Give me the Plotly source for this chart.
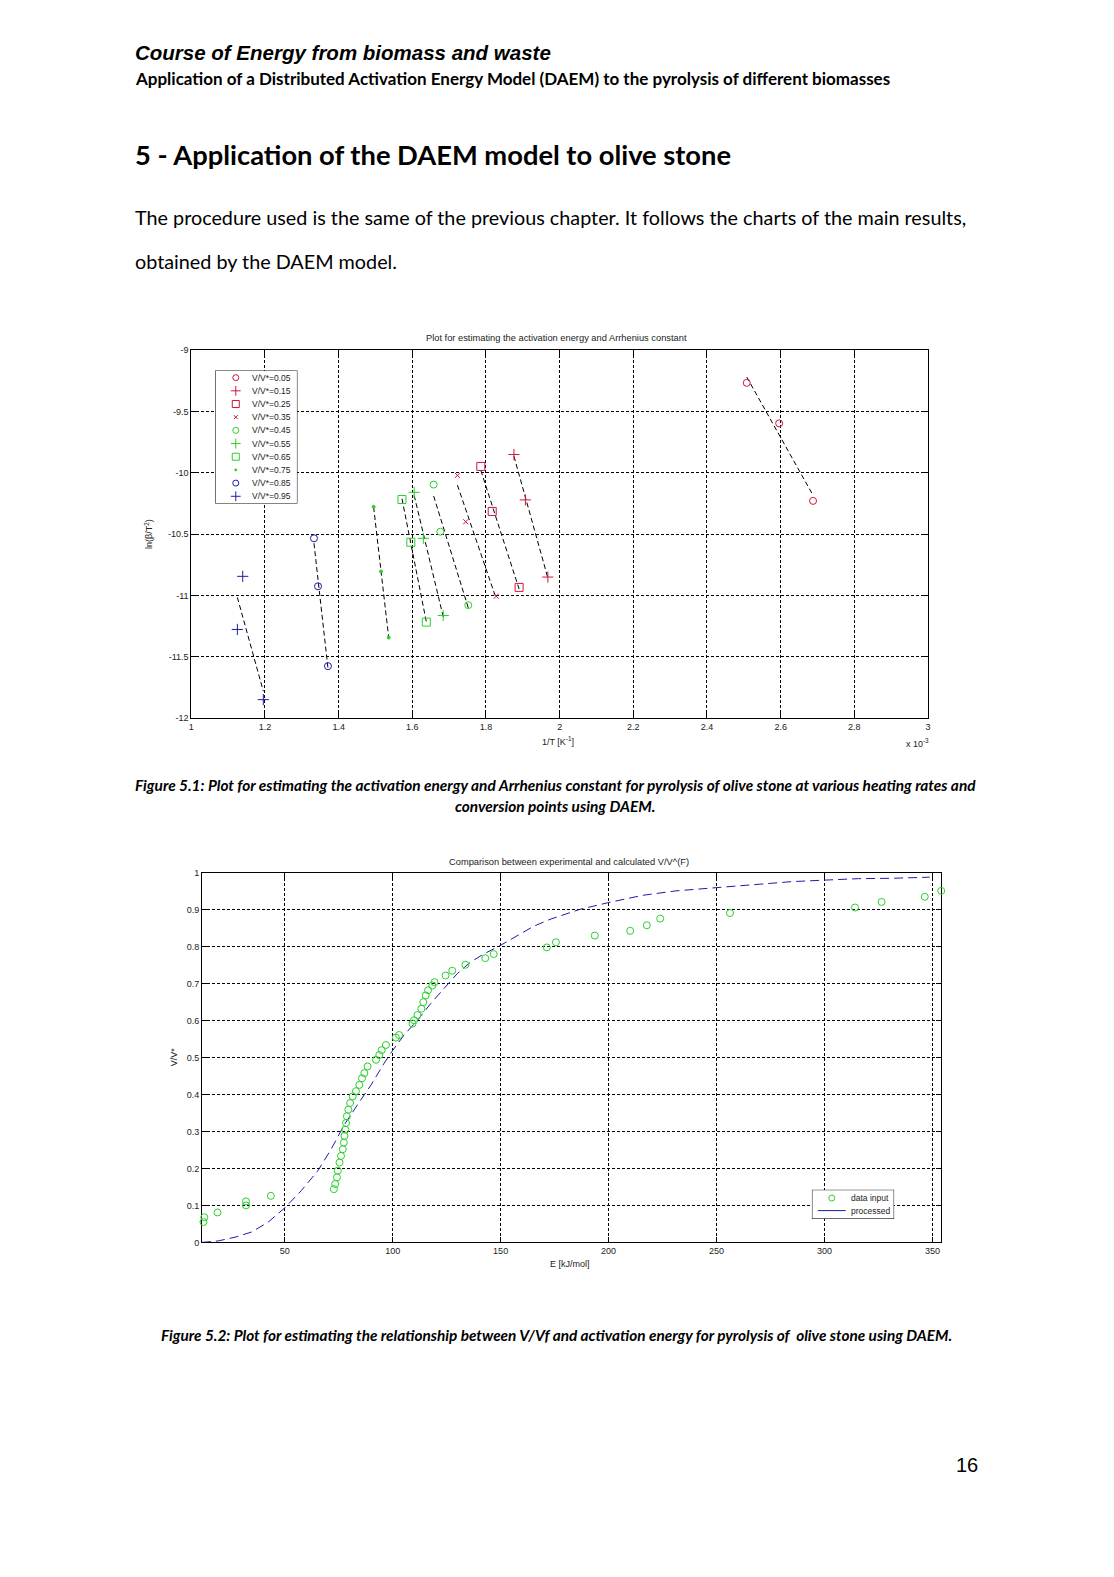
import numpy as np
import plotly.graph_objects as go

W, H = 1114, 1577
OFF = 8  # default body margin of the html page
FW, FH = W - 2 * OFF, H - 2 * OFF


def px(x):
    return (x - OFF) / FW


def py(y):
    return 1 - (y - OFF) / FH


# ---------------- Figure 5.1 data: ln(beta/T^2) vs 1/T (x 10^-3 K^-1) ----------------
conv_labels = ["V/V*=0.05", "V/V*=0.15", "V/V*=0.25", "V/V*=0.35", "V/V*=0.45",
               "V/V*=0.55", "V/V*=0.65", "V/V*=0.75", "V/V*=0.85", "V/V*=0.95"]

invT_005 = [2.508, 2.596, 2.688]
lnbT_005 = [-9.267, -9.597, -10.229]
invT_015 = [1.876, 1.907, 1.968]
lnbT_015 = [-9.851, -10.221, -10.850]
invT_025 = [1.786, 1.817, 1.890]
lnbT_025 = [-9.948, -10.315, -10.934]
invT_035 = [1.7225, 1.745, 1.828]
lnbT_035 = [-10.021, -10.399, -11.006]
invT_045 = [1.658, 1.676, 1.752]
lnbT_045 = [-10.096, -10.480, -11.079]
invT_055 = [1.605, 1.630, 1.684]
lnbT_055 = [-10.159, -10.534, -11.163]
invT_065 = [1.572, 1.596, 1.638]
lnbT_065 = [-10.218, -10.566, -11.217]
invT_075 = [1.495, 1.515, 1.536]
lnbT_075 = [-10.277, -10.804, -11.343]
invT_085 = [1.333, 1.344, 1.371]
lnbT_085 = [-10.534, -10.925, -11.576]
invT_095 = [1.1396, 1.125, 1.1955]
lnbT_095 = [-10.844, -11.277, -11.849]

x1_ticks = [1, 1.2, 1.4, 1.6, 1.8, 2, 2.2, 2.4, 2.6, 2.8, 3]
x1_ticklabels = ["1", "1.2", "1.4", "1.6", "1.8", "2", "2.2", "2.4", "2.6", "2.8", "3"]
y1_ticks = [-12, -11.5, -11, -10.5, -10, -9.5, -9]
y1_ticklabels = ["-12", "-11.5", "-11", "-10.5", "-10", "-9.5", "-9"]

# ---------------- Figure 5.2 data: V/V* vs E ----------------
E_data = [12.4, 12.8, 18.9, 32.1, 32.1, 43.6, 72.8, 73.4, 74.2, 74.6, 75.4, 76.1, 76.9,
          77.4, 77.7, 78.1, 78.4, 78.8, 79.5, 80.3, 81.5, 83.0, 84.6, 85.8, 86.9, 88.4,
          92.3, 93.8, 94.9, 96.9, 101.5, 103.0, 109.2, 109.9, 111.5, 113.3, 114.2, 115.3,
          116.4, 118.4, 119.4, 124.5, 127.6, 133.7, 142.9, 146.8, 171.4, 175.6, 193.6,
          210.0, 217.7, 223.9, 256.2, 314.1, 326.4, 346.4, 354.0]
V_data = [0.055, 0.068, 0.081, 0.111, 0.100, 0.126, 0.144, 0.158, 0.176, 0.194, 0.216,
          0.234, 0.252, 0.270, 0.288, 0.305, 0.323, 0.341, 0.359, 0.377, 0.395, 0.409,
          0.426, 0.444, 0.458, 0.476, 0.494, 0.507, 0.520, 0.534, 0.554, 0.561, 0.592,
          0.601, 0.615, 0.632, 0.650, 0.668, 0.682, 0.695, 0.704, 0.722, 0.735, 0.751,
          0.769, 0.780, 0.798, 0.812, 0.830, 0.843, 0.858, 0.876, 0.891, 0.906, 0.921,
          0.935, 0.951]

E_proc = [11.7, 19.3, 27.0, 34.7, 42.4, 50.0, 57.7, 65.4, 71.5, 77.7, 83.8, 90.0, 96.1,
          99.6, 105.3, 111.5, 117.6, 123.7, 129.9, 136.0, 142.1, 149.8, 157.5, 165.2,
          172.9, 180.6, 186.7, 199.7, 215.8, 231.2, 249.8, 269.6, 284.9, 299.7, 315.7,
          331.0, 348.7]
V_proc = [0.000, 0.004, 0.014, 0.028, 0.055, 0.093, 0.140, 0.194, 0.252, 0.319, 0.373,
          0.426, 0.485, 0.516, 0.561, 0.601, 0.646, 0.686, 0.727, 0.758, 0.780, 0.803,
          0.830, 0.855, 0.874, 0.888, 0.901, 0.919, 0.939, 0.951, 0.960, 0.970, 0.976,
          0.980, 0.984, 0.985, 0.988]

x2_ticks = [50, 100, 150, 200, 250, 300, 350]
y2_ticks = [0, 0.1, 0.2, 0.3, 0.4, 0.5, 0.6, 0.7, 0.8, 0.9, 1]
y2_ticklabels = ["0", "0.1", "0.2", "0.3", "0.4", "0.5", "0.6", "0.7", "0.8", "0.9", "1"]
legend2_labels = ["data input", "processed"]

# ---------------- styles ----------------
RED = "#d0143c"
GREEN = "#2ad02a"
BLUE = "#1c1ca8"
FONT = "Liberation Sans"

series = [
    (invT_005, lnbT_005, RED, "circle-open", 7),
    (invT_015, lnbT_015, RED, "cross-thin-open", 8),
    (invT_025, lnbT_025, RED, "square-open", 8),
    (invT_035, lnbT_035, RED, "x-thin-open", 5),
    (invT_045, lnbT_045, GREEN, "circle-open", 7),
    (invT_055, lnbT_055, GREEN, "cross-thin-open", 8),
    (invT_065, lnbT_065, GREEN, "square-open", 8),
    (invT_075, lnbT_075, GREEN, "circle", 3),
    (invT_085, lnbT_085, BLUE, "circle-open", 7),
    (invT_095, lnbT_095, BLUE, "cross-thin-open", 8),
]

fig = go.Figure()

# Chart 1 fit lines and points
for xs, ys, col, sym, sz in series:
    xs_a = np.array(xs)
    ys_a = np.array(ys)
    k, b = np.polyfit(xs_a, ys_a, 1)
    xl = np.array([xs_a.min(), xs_a.max()])
    fig.add_trace(go.Scatter(x=xl, y=k * xl + b, mode="lines",
                             line=dict(color="black", width=1, dash="5px,3px"),
                             xaxis="x", yaxis="y", showlegend=False, hoverinfo="skip"))
for (xs, ys, col, sym, sz), lab in zip(series, conv_labels):
    fig.add_trace(go.Scatter(x=xs, y=ys, mode="markers", name=lab,
                             marker=dict(symbol=sym, color=col, size=sz,
                                         line=dict(color=col, width=1)),
                             xaxis="x", yaxis="y", showlegend=False))

# Chart 2
fig.add_trace(go.Scatter(x=E_proc, y=V_proc, mode="lines", name="processed",
                         line=dict(color=BLUE, width=1, dash="9px,5px"),
                         xaxis="x2", yaxis="y2", showlegend=False))
fig.add_trace(go.Scatter(x=E_data, y=V_data, mode="markers", name="data input",
                         marker=dict(symbol="circle-open", color=GREEN, size=7,
                                     line=dict(color=GREEN, width=1)),
                         xaxis="x2", yaxis="y2", showlegend=False, cliponaxis=False))

# ---------- manual legend 1 (overlay subplot x3/y3, px units inside box) ----------
L1 = dict(x0=213.3, x1=296.0, y0=367.7, y1=501.7)
lw1 = L1["x1"] - L1["x0"]
lh1 = L1["y1"] - L1["y0"]
fig.add_trace(go.Scatter(x=[0, lw1, lw1, 0, 0], y=[0, 0, lh1, lh1, 0], mode="lines",
                         fill="toself", fillcolor="white",
                         line=dict(color="black", width=1), xaxis="x3", yaxis="y3",
                         showlegend=False, hoverinfo="skip", cliponaxis=False))
row_gap = (lh1 - 14.6) / (len(conv_labels) - 1)
for i, ((xs, ys, col, sym, sz), lab) in enumerate(zip(series, conv_labels)):
    yy = 7.3 + i * row_gap
    fig.add_trace(go.Scatter(x=[20.7], y=[yy], mode="markers",
                             marker=dict(symbol=sym, color=col, size=sz - 1,
                                         line=dict(color=col, width=1)),
                             xaxis="x3", yaxis="y3", showlegend=False, hoverinfo="skip"))
    fig.add_annotation(x=35.5, y=yy, xref="x3", yref="y3", text=lab, showarrow=False,
                       xanchor="left", yanchor="middle",
                       font=dict(family=FONT, size=8.5, color="#222"))

# ---------- manual legend 2 (overlay subplot x4/y4) ----------
L2 = dict(x0=813.3, x1=896.0, y0=1192.3, y1=1221.7)
lw2 = L2["x1"] - L2["x0"]
lh2 = L2["y1"] - L2["y0"]
fig.add_trace(go.Scatter(x=[0, lw2, lw2, 0, 0], y=[0, 0, lh2, lh2, 0], mode="lines",
                         fill="toself", fillcolor="white",
                         line=dict(color="black", width=1), xaxis="x4", yaxis="y4",
                         showlegend=False, hoverinfo="skip", cliponaxis=False))
fig.add_trace(go.Scatter(x=[20], y=[8.4], mode="markers",
                         marker=dict(symbol="circle-open", color=GREEN, size=6,
                                     line=dict(color=GREEN, width=1)),
                         xaxis="x4", yaxis="y4", showlegend=False, hoverinfo="skip"))
fig.add_trace(go.Scatter(x=[6, 34], y=[21, 21], mode="lines",
                         line=dict(color=BLUE, width=1),
                         xaxis="x4", yaxis="y4", showlegend=False, hoverinfo="skip",
                         cliponaxis=False))
for j, lab in enumerate(legend2_labels):
    fig.add_annotation(x=37, y=8.4 + j * 12.6, xref="x4", yref="y4", text=lab,
                       showarrow=False, xanchor="left", yanchor="middle",
                       font=dict(family=FONT, size=8.5, color="#222"))

axis_common = dict(showgrid=True, gridcolor="black", gridwidth=1, griddash="3px,2px",
                   ticks="inside", ticklen=5, tickcolor="black", showline=True,
                   linecolor="black", linewidth=1, mirror="ticks", zeroline=False,
                   tickfont=dict(family=FONT, size=9, color="#222"), layer="below traces")

hidden = dict(visible=False, showgrid=False, zeroline=False, fixedrange=True)

fig.update_layout(
    width=FW, height=FH, margin=dict(l=0, r=0, t=0, b=0),
    paper_bgcolor="white", plot_bgcolor="rgba(0,0,0,0)", showlegend=False,
    xaxis=dict(domain=[px(189.3), px(930)], range=[1, 3], tickvals=x1_ticks,
               ticktext=x1_ticklabels, anchor="y", **axis_common),
    yaxis=dict(domain=[py(717.7), py(347.3)], range=[-12, -9], tickvals=y1_ticks,
               ticktext=y1_ticklabels, anchor="x", **axis_common),
    xaxis2=dict(domain=[px(200), px(943.3)], range=[11.7, 354.0], tickvals=x2_ticks,
                anchor="y2", **axis_common),
    yaxis2=dict(domain=[py(1245.3), py(873.3)], range=[0, 1], tickvals=y2_ticks,
                ticktext=y2_ticklabels, anchor="x2", **axis_common),
    xaxis3=dict(domain=[px(L1["x0"]), px(L1["x1"])], range=[0, lw1], anchor="y3", **hidden),
    yaxis3=dict(domain=[py(L1["y1"]), py(L1["y0"])], range=[lh1, 0], anchor="x3", **hidden),
    xaxis4=dict(domain=[px(L2["x0"]), px(L2["x1"])], range=[0, lw2], anchor="y4", **hidden),
    yaxis4=dict(domain=[py(L2["y1"]), py(L2["y0"])], range=[lh2, 0], anchor="x4", **hidden),
)


def text(x, y, s, size, family=FONT, xanchor="left", color="black", angle=0):
    fig.add_annotation(x=px(x), y=py(y), xref="paper", yref="paper", text=s,
                       showarrow=False, xanchor=xanchor, yanchor="middle", textangle=angle,
                       font=dict(family=family, size=size, color=color))


# Page text
text(131, 48, "<b><i>Course of Energy from biomass and waste</i></b>", 20.5)
text(131, 74, "<b>Application of a Distributed Activation Energy Model (DAEM) to the pyrolysis of different biomasses</b>",
     17, family="Lato")
text(131, 150, "<b>5 - Application of the DAEM model to olive stone</b>", 27.3, family="Lato")
text(131, 213, "The procedure used is the same of the previous chapter. It follows the charts of the main results,",
     19.8, family="Lato")
text(131, 258, "obtained by the DAEM model.", 19.8, family="Lato")
text(555, 785, "<b><i>Figure 5.1: Plot for estimating the activation energy and Arrhenius constant for pyrolysis of olive stone at various heating rates and</i></b>",
     15.4, family="Lato", xanchor="center")
text(555, 806, "<b><i>conversion points using DAEM.</i></b>", 15.4, family="Lato", xanchor="center")
text(556, 1339, "<b><i>Figure 5.2: Plot for estimating the relationship between V/Vf and activation energy for pyrolysis of  olive stone using DAEM.</i></b>",
     15.35, family="Lato", xanchor="center")
text(969, 1469, "16", 20, xanchor="center")

# Chart 1 labels
text(556, 335, "Plot for estimating the activation energy and Arrhenius constant", 9.3,
     xanchor="center", color="#222")
text(558, 741, "1/T [K<sup>-1</sup>]", 9, xanchor="center", color="#222")
text(919, 743, "x 10<sup>-3</sup>", 9, xanchor="center", color="#222")
text(146, 532, "ln(β/T<sup>2</sup>)", 9, xanchor="center", color="#222", angle=-90)

# Chart 2 labels
text(569, 862, "Comparison between experimental and calculated V/V^(F)", 9.3,
     xanchor="center", color="#222")
text(570, 1267, "E [kJ/mol]", 9, xanchor="center", color="#222")
text(172, 1059, "V/V*", 9, xanchor="center", color="#222", angle=-90)

fig.write_html("out.html")
